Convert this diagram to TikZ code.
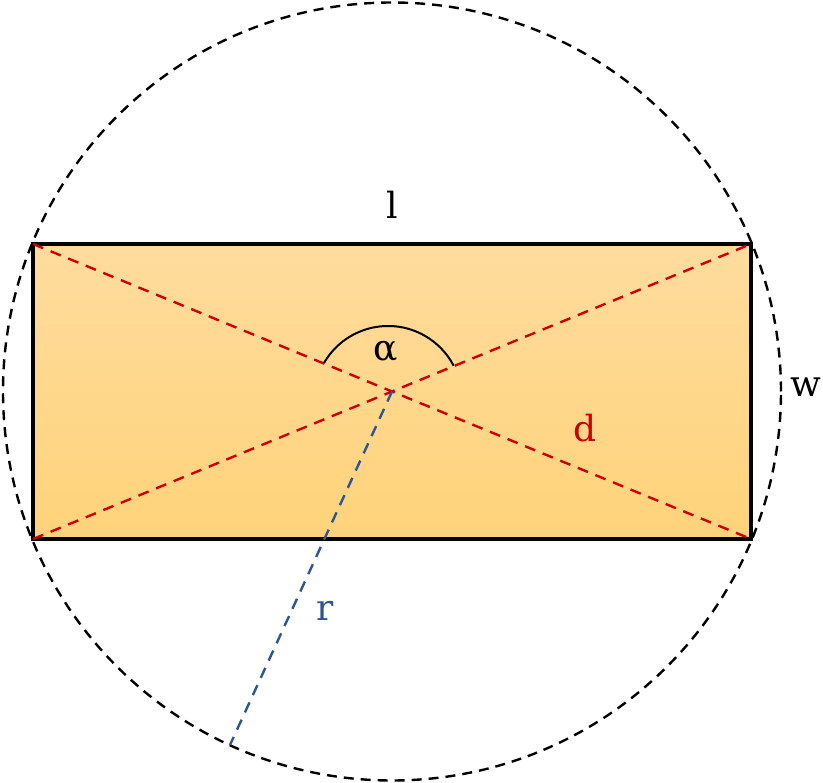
\documentclass[tikz,border=0pt]{standalone}
\usepackage{fontspec}
\setmainfont{DejaVu Serif}
\definecolor{rectTop}{RGB}{255,220,158}
\definecolor{rectBot}{RGB}{255,211,122}
\definecolor{diagRed}{RGB}{204,0,0}
\definecolor{radBlue}{RGB}{47,85,151}
\tikzset{
  lbl/.style={inner sep=0pt, font=\fontsize{36}{42}\selectfont},
  circdash/.style={black, line width=2.4pt, dash pattern=on 10pt off 7pt},
  diagdash/.style={diagRed, line width=2.4pt, dash pattern=on 11pt off 8pt},
  raddash/.style={radBlue, line width=2.4pt, dash pattern=on 11pt off 8pt}
}
\begin{document}
\begin{tikzpicture}[x=1pt,y=-1pt]
                \useasboundingbox (0,0) rectangle (823,783);

                % Corners and centre
                \coordinate (O) at (392,391.5);
                \coordinate (TL) at (33,244);
                \coordinate (TR) at (751,244);
                \coordinate (BL) at (33,539);
                \coordinate (BR) at (751,539);
                \coordinate (rEnd) at (230,745);

                % Rectangle (orange gradient)
                \shade[top color=rectTop, bottom color=rectBot] (TL) rectangle (BR);
                \draw[line width=3.4pt] (TL) rectangle (BR);

                % Circumscribed circle
                \draw[circdash] (O) circle[radius=389pt];

                % Diagonals (red)
                \draw[diagdash] (TL) -- (BR);
                \draw[diagdash] (BL) -- (TR);

                % Radius (blue)
                \draw[raddash] (O) -- (rEnd);

                % Angle arc
                \draw[line width=2pt] (324,363) arc[start angle=150, end angle=27.6, radius=74pt];

                % Labels
                \node[lbl] (lenL) at (392,205) {l};
                \node[lbl] (angA) at (386,352) {α};
                \node[lbl] (widW) at (806,387) {w};
                \node[lbl, text=diagRed] (diagD) at (585,428) {d};
                \node[lbl, text=radBlue] (radR) at (325,611) {r};
            \end{tikzpicture}
\end{document}
